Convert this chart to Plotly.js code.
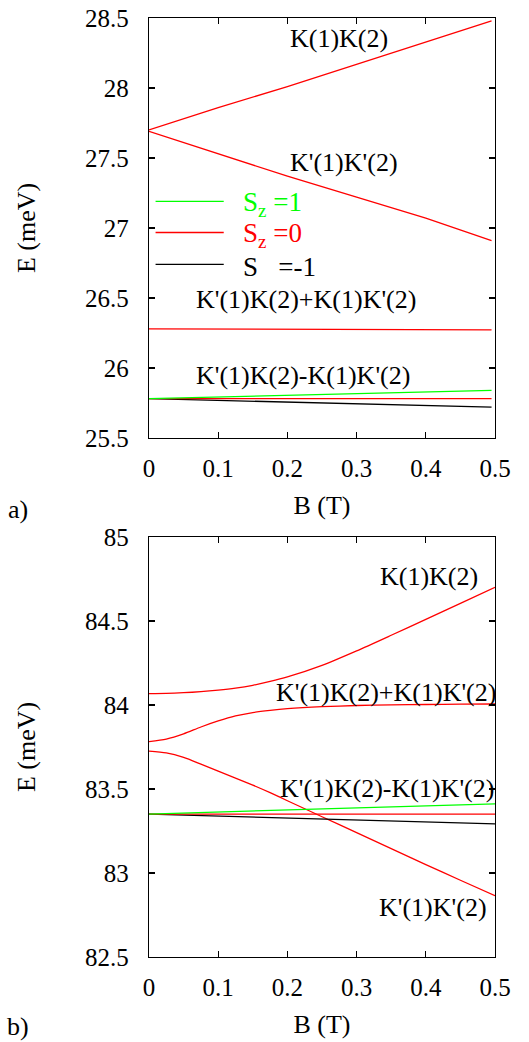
<!DOCTYPE html>
<html>
<head>
<meta charset="utf-8">
<script src="https://cdn.plot.ly/plotly-3.0.1.min.js"></script>
<style>html,body{margin:0;padding:0;background:#fff;}#chart{width:529px;height:1042px;}</style>
</head>
<body>
<div id="chart"></div>
<script>
// ---------- data: panel a) ----------
const B_a = [0, 0.1, 0.2, 0.3, 0.4, 0.495];
const Ea_KK      = [27.70, 27.86, 28.01, 28.17, 28.33, 28.48];
const Ea_KpKp    = [27.69, 27.53, 27.37, 27.22, 27.07, 26.91];
const Ea_sym     = [26.280, 26.279, 26.278, 26.276, 26.274, 26.272];
const Ea_asym_p1 = [25.781, 25.793, 25.805, 25.817, 25.829, 25.840];
const Ea_asym_0  = [25.781, 25.781, 25.781, 25.781, 25.781, 25.781];
const Ea_asym_m1 = [25.781, 25.769, 25.757, 25.745, 25.733, 25.721];

// ---------- data: panel b) ----------
const B_b = [0, 0.025, 0.05, 0.075, 0.1, 0.125, 0.15, 0.175, 0.2, 0.25, 0.3, 0.35, 0.4, 0.45, 0.5];
const Eb_KK      = [84.068, 84.069, 84.073, 84.079, 84.088, 84.100, 84.117, 84.140, 84.167, 84.236, 84.322, 84.415, 84.510, 84.605, 84.700];
const Eb_sym     = [83.782, 83.797, 83.828, 83.869, 83.905, 83.935, 83.955, 83.968, 83.978, 83.990, 83.997, 84.001, 84.003, 84.005, 84.006];
const Eb_KpKp    = [83.726, 83.715, 83.688, 83.648, 83.606, 83.565, 83.523, 83.478, 83.430, 83.335, 83.240, 83.145, 83.050, 82.957, 82.865];
const B_b_lin    = [0, 0.1, 0.2, 0.3, 0.4, 0.5];
const Eb_asym_p1 = [83.351, 83.363, 83.375, 83.387, 83.399, 83.411];
const Eb_asym_0  = [83.351, 83.351, 83.351, 83.351, 83.351, 83.351];
const Eb_asym_m1 = [83.351, 83.339, 83.327, 83.315, 83.303, 83.292];

// ---------- ticks & labels ----------
const xTickVals = [0, 0.1, 0.2, 0.3, 0.4, 0.5];
const xTickText = ["0", "0.1", "0.2", "0.3", "0.4", "0.5"];
const yaTickVals = [25.5, 26, 26.5, 27, 27.5, 28, 28.5];
const yaTickText = ["25.5", "26", "26.5", "27", "27.5", "28", "28.5"];
const ybTickVals = [82.5, 83, 83.5, 84, 84.5, 85];
const ybTickText = ["82.5", "83", "83.5", "84", "84.5", "85"];
const legendNames = ["S<sub>z</sub> =1", "S<sub>z</sub> =0", "S\u00a0\u00a0\u00a0=-1"];
const stateLabels = ["K(1)K(2)", "K'(1)K'(2)", "K'(1)K(2)+K(1)K'(2)", "K'(1)K(2)-K(1)K'(2)"];

const GREEN = "#00ff00", RED = "#ff0000", BLACK = "#000000";
const FONT = "Liberation Serif";
const LW = 1.3;

function tr(x, y, color, xa, ya, shape) {
  return {x: x, y: y, type: "scatter", mode: "lines", xaxis: xa, yaxis: ya,
          line: {color: color, width: LW, shape: shape || "linear", smoothing: 0.7},
          showlegend: false, hoverinfo: "skip"};
}

const data = [
  tr(B_a, Ea_KK, RED, "x", "y"),
  tr(B_a, Ea_KpKp, RED, "x", "y"),
  tr(B_a, Ea_sym, RED, "x", "y"),
  tr(B_a, Ea_asym_m1, BLACK, "x", "y"),
  tr(B_a, Ea_asym_0, RED, "x", "y"),
  tr(B_a, Ea_asym_p1, GREEN, "x", "y"),
  tr(B_b, Eb_KK, RED, "x2", "y2", "spline"),
  tr(B_b, Eb_sym, RED, "x2", "y2", "spline"),
  tr(B_b, Eb_KpKp, RED, "x2", "y2", "spline"),
  tr(B_b_lin, Eb_asym_m1, BLACK, "x2", "y2"),
  tr(B_b_lin, Eb_asym_0, RED, "x2", "y2"),
  tr(B_b_lin, Eb_asym_p1, GREEN, "x2", "y2")
];

function xax(anchor) {
  return {anchor: anchor, domain: [0, 1], range: [0, 0.5],
    tickmode: "array", tickvals: xTickVals, ticktext: xTickText,
    ticks: "inside", ticklen: 6, tickwidth: 1.2, tickcolor: BLACK,
    showline: true, linecolor: BLACK, linewidth: 1.3, mirror: "ticks",
    showgrid: false, zeroline: false, ticklabelstandoff: 8,
    tickfont: {family: FONT, size: 25, color: BLACK},
    title: {text: "B (T)", font: {family: FONT, size: 26, color: BLACK}, standoff: 14}};
}
function yax(anchor, domain, range, vals, text) {
  return {anchor: anchor, domain: domain, range: range,
    tickmode: "array", tickvals: vals, ticktext: text,
    ticks: "inside", ticklen: 6, tickwidth: 1.2, tickcolor: BLACK,
    showline: true, linecolor: BLACK, linewidth: 1.3, mirror: "ticks",
    showgrid: false, zeroline: false, ticklabelstandoff: 14,
    tickfont: {family: FONT, size: 25, color: BLACK},
    title: {text: "E (meV)", font: {family: FONT, size: 26, color: BLACK}, standoff: 41}};
}

function ann(text, x, y, xref, yref, opts) {
  return Object.assign({text: text, x: x, y: y, xref: xref, yref: yref,
    showarrow: false, xanchor: "center", yanchor: "middle",
    font: {family: FONT, size: 26, color: BLACK}}, opts || {});
}

const legendY = [27.19, 26.968, 26.74];
const legendColors = [GREEN, RED, BLACK];

const shapes = legendY.map((yy, i) => ({type: "line", xref: "x", yref: "y",
  x0: 0.0095, x1: 0.108, y0: yy, y1: yy, line: {color: legendColors[i], width: LW}}));

const annotations = [
  ann(stateLabels[0], 0.275, 28.357, "x", "y"),
  ann(stateLabels[1], 0.282, 27.471, "x", "y"),
  ann(stateLabels[2], 0.227, 26.486, "x", "y"),
  ann(stateLabels[3], 0.2227, 25.95, "x", "y"),
  ann(stateLabels[0], 0.405, 84.764, "x2", "y2"),
  ann(stateLabels[2], 0.343, 84.074, "x2", "y2"),
  ann(stateLabels[3], 0.344, 83.50, "x2", "y2"),
  ann(stateLabels[1], 0.410, 82.792, "x2", "y2"),
  ann("a)", 18, 510, "paper", "paper"),
  ann("b)", 18, 1026, "paper", "paper")
];
// legend texts
legendNames.forEach((t, i) => {
  annotations.push(ann(t, 0.133, legendY[i], "x", "y",
    {xanchor: "left", yshift: -3, font: {family: FONT, size: 27, color: legendColors[i]}}));
});
// panel labels in pixel coordinates -> convert to paper
const W = 529, H = 1042, ML = 149, MR = 34, MT = 18, MB = 85;
annotations.forEach(a => {
  if (a.xref === "paper") {
    a.x = (a.x - ML) / (W - ML - MR);
    a.y = (H - MB - a.y) / (H - MT - MB);
  }
});

const layout = {
  width: W, height: H,
  margin: {l: ML, r: MR, t: MT, b: MB},
  paper_bgcolor: "#ffffff", plot_bgcolor: "#ffffff",
  showlegend: false,
  font: {family: FONT, color: BLACK},
  xaxis: xax("y"),
  yaxis: yax("x", [0.5527, 1], [25.5, 28.5], yaTickVals, yaTickText),
  xaxis2: xax("y2"),
  yaxis2: yax("x2", [0, 0.4473], [82.5, 85], ybTickVals, ybTickText),
  shapes: shapes,
  annotations: annotations
};

Plotly.newPlot("chart", data, layout, {staticPlot: true, displayModeBar: false});
</script>
</body>
</html>
